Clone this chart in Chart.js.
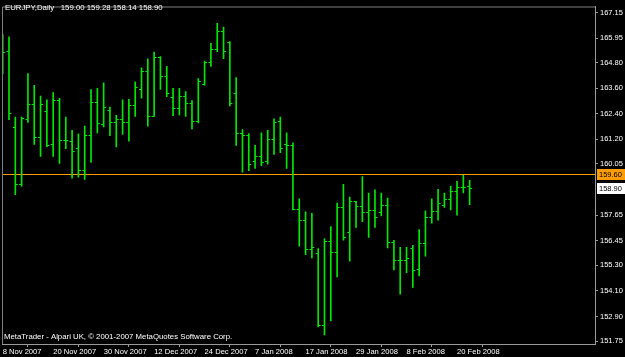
<!DOCTYPE html>
<html><head><meta charset="utf-8">
<script src="https://cdn.jsdelivr.net/npm/chart.js@4.4.1/dist/chart.umd.min.js"></script>
<style>html,body{margin:0;padding:0;background:#000;}canvas{display:block}</style>
</head><body>
<canvas id="c" width="625" height="357"></canvas>
<script>
const dates = [
 '8 Nov 2007','9 Nov 2007','12 Nov 2007','13 Nov 2007','14 Nov 2007','15 Nov 2007','16 Nov 2007','19 Nov 2007','20 Nov 2007','21 Nov 2007',
 '22 Nov 2007','23 Nov 2007','26 Nov 2007','27 Nov 2007','28 Nov 2007','29 Nov 2007','30 Nov 2007','3 Dec 2007','4 Dec 2007','5 Dec 2007',
 '6 Dec 2007','7 Dec 2007','10 Dec 2007','11 Dec 2007','12 Dec 2007','13 Dec 2007','14 Dec 2007','17 Dec 2007','18 Dec 2007','19 Dec 2007',
 '20 Dec 2007','21 Dec 2007','24 Dec 2007','26 Dec 2007','27 Dec 2007','28 Dec 2007','31 Dec 2007','2 Jan 2008','3 Jan 2008','4 Jan 2008',
 '7 Jan 2008','8 Jan 2008','9 Jan 2008','10 Jan 2008','11 Jan 2008','14 Jan 2008','15 Jan 2008','16 Jan 2008','17 Jan 2008','18 Jan 2008',
 '21 Jan 2008','22 Jan 2008','23 Jan 2008','24 Jan 2008','25 Jan 2008','28 Jan 2008','29 Jan 2008','30 Jan 2008','31 Jan 2008','1 Feb 2008',
 '4 Feb 2008','5 Feb 2008','6 Feb 2008','7 Feb 2008','8 Feb 2008','11 Feb 2008','12 Feb 2008','13 Feb 2008','14 Feb 2008','15 Feb 2008',
 '18 Feb 2008','19 Feb 2008','20 Feb 2008','21 Feb 2008','22 Feb 2008'
];
const opens = [
 165.60,165.33,161.78,159.12,162.15,162.85,161.32,162.51,160.97,163.05,
 161.15,161.14,160.81,159.78,161.40,162.95,161.91,162.56,162.00,162.17,
 162.00,162.82,163.54,164.39,162.28,165.08,164.16,163.20,162.66,163.23,
 162.90,162.05,163.82,164.82,165.44,166.26,165.75,163.36,161.51,161.43,
 160.20,160.43,160.20,161.20,162.05,160.97,160.94,157.96,157.40,156.05,
 155.88,152.49,156.45,155.91,158.02,156.87,158.30,158.07,157.79,157.91,
 157.79,158.12,156.39,155.53,155.53,156.11,155.11,156.36,157.54,157.84,
 158.12,158.42,158.78,158.95,159.00
];
const highs = [
 166.13,166.01,162.25,162.25,164.28,163.74,163.23,163.05,163.39,163.13,
 162.25,161.63,161.46,161.82,163.54,163.59,163.85,162.71,162.33,163.05,
 163.08,163.90,164.56,164.98,165.29,165.08,164.62,163.59,163.59,163.44,
 163.02,164.05,164.87,165.70,166.64,166.47,165.79,164.10,161.66,161.47,
 160.92,161.51,161.63,162.17,162.25,161.51,161.04,158.42,157.81,157.73,
 156.08,156.54,157.11,158.22,159.09,158.50,158.30,159.46,158.69,158.84,
 158.69,158.45,156.47,156.14,156.14,156.23,156.97,157.85,158.42,158.86,
 158.69,159.01,159.23,159.53,159.28
];
const lows = [
 164.28,162.12,158.61,159.01,162.00,160.97,160.40,160.86,160.40,160.07,
 160.77,159.38,159.43,159.32,160.12,161.51,161.78,161.38,160.85,161.43,
 161.12,162.28,163.13,161.82,162.28,163.54,163.20,162.31,162.35,162.28,
 161.69,161.97,163.74,164.62,165.31,164.98,162.77,160.92,159.66,159.74,
 159.84,159.97,160.04,160.50,160.58,159.84,157.89,156.19,155.80,155.65,
 152.41,152.03,152.69,154.75,156.48,155.49,157.07,157.34,156.60,157.08,
 157.61,156.11,155.08,153.95,154.95,154.26,154.80,155.73,157.27,157.42,
 158.01,157.89,157.65,158.69,158.14
];
const closes = [
 165.29,162.43,159.12,162.20,162.86,161.32,162.86,160.92,163.05,161.17,
 161.15,160.64,159.78,161.40,162.95,161.97,162.74,162.00,162.17,162.00,
 162.82,163.67,164.39,162.28,165.08,164.16,163.39,162.66,163.23,162.90,
 162.05,163.94,164.82,165.44,166.26,165.36,162.90,161.51,161.43,160.07,
 160.43,160.15,161.20,162.00,160.80,160.94,157.93,157.40,156.04,156.16,
 152.49,156.45,155.94,158.02,156.64,158.30,158.07,157.79,157.91,157.54,
 158.12,156.39,155.53,155.55,155.62,155.06,156.36,157.54,157.84,158.24,
 158.42,158.78,158.95,158.96,158.90
];
const xTickIndexes = [0,8,16,24,32,40,48,56,64,72];
const yTickValues = [167.15,165.95,164.80,163.60,162.40,161.20,160.05,157.65,156.45,155.30,154.10,152.90,151.75];
const levelLine = 159.60;
const bidPrice = 158.90;
const titleText = 'EURJPY,Daily   159.00 159.28 158.14 158.90';
const footerText = 'MetaTrader - Alpari UK, \u00A9 2001-2007 MetaQuotes Software Corp.';

const FONT = "'Liberation Sans', Arial, sans-serif";
const BAR = '#00e600';
const AXIS = '#9a9a9a';
const LEVEL = '#ff9c00';

const ohlcTicks = {
  id: 'ohlcTicks',
  beforeDatasetsDraw(chart) {
    const ys = chart.scales.y, c = chart.ctx, a = chart.chartArea;
    const y = Math.round(ys.getPixelForValue(levelLine)) + 0.5;
    c.save();
    c.strokeStyle = LEVEL; c.lineWidth = 1;
    c.beginPath(); c.moveTo(a.left, y); c.lineTo(a.right, y); c.stroke();
    c.restore();
  },
  afterDatasetsDraw(chart) {
    const xs = chart.scales.x, ys = chart.scales.y, c = chart.ctx, a = chart.chartArea;
    c.save();
    c.beginPath(); c.rect(a.left, a.top, a.right - a.left, a.bottom - a.top); c.clip();
    c.strokeStyle = BAR; c.lineWidth = 1;
    for (let i = 0; i < opens.length; i++) {
      const x = xs.getPixelForValue(i);
      const yo = Math.round(ys.getPixelForValue(opens[i])) + 0.5;
      const yc = Math.round(ys.getPixelForValue(closes[i])) + 0.5;
      c.beginPath(); c.moveTo(x - 2.5, yo); c.lineTo(x, yo); c.stroke();
      c.beginPath(); c.moveTo(x, yc); c.lineTo(x + 2.5, yc); c.stroke();
    }
    c.restore();
  },
  afterDraw(chart) {
    const ys = chart.scales.y, c = chart.ctx, a = chart.chartArea;
    c.save();
    c.strokeStyle = '#808080'; c.lineWidth = 1;
    c.beginPath();
    c.moveTo(a.left + 0.5, a.bottom); c.lineTo(a.left + 0.5, a.top + 0.5); c.lineTo(a.right, a.top + 0.5);
    c.stroke();
    c.font = '7.5px ' + FONT; c.textBaseline = 'middle'; c.textAlign = 'left';
    let y = Math.round(ys.getPixelForValue(levelLine));
    c.fillStyle = LEVEL; c.fillRect(a.right + 2, y - 5, 28, 11);
    c.fillStyle = '#000'; c.fillText(levelLine.toFixed(2), a.right + 4, y + 0.5);
    y = Math.round(ys.getPixelForValue(bidPrice));
    c.fillStyle = '#fff'; c.fillRect(a.right + 2, y - 5, 28, 11);
    c.fillStyle = '#000'; c.fillText(bidPrice.toFixed(2), a.right + 4, y + 0.5);
    c.font = '7.8px ' + FONT;
    c.fillStyle = '#ffffff';
    c.fillText(titleText, 5, 8);
    c.fillText(footerText, 4, 337);
    c.restore();
  }
};

new Chart(document.getElementById('c'), {
  type: 'bar',
  data: {
    datasets: [
      { type: 'bar', data: dates.map((d, i) => ({ x: i, y: [lows[i], highs[i]] })),
        backgroundColor: BAR, barThickness: 1, grouped: false, borderWidth: 0 }
    ]
  },
  options: {
    responsive: false, animation: false, devicePixelRatio: 1,
    layout: { padding: { left: 2, top: 2, right: 0, bottom: 0 } },
    plugins: { legend: { display: false }, tooltip: { enabled: false } },
    scales: {
      x: {
        type: 'linear', min: -0.11, max: 93.87, offset: false,
        afterBuildTicks: s => { s.ticks = xTickIndexes.map(v => ({ value: v })); },
        afterFit: s => { s.height = 13; },
        ticks: { callback: v => dates[v], align: 'start', maxRotation: 0, autoSkip: false,
                 color: '#ffffff', font: { family: FONT, size: 7.6 }, padding: 0 },
        grid: { drawOnChartArea: false, tickLength: 3, color: AXIS },
        border: { color: AXIS }
      },
      y: {
        position: 'right', min: 151.61, max: 167.43,
        afterBuildTicks: s => { s.ticks = yTickValues.map(v => ({ value: v })); },
        afterFit: s => { s.width = 30; },
        ticks: { callback: v => v.toFixed(2), color: '#ffffff', font: { family: FONT, size: 7.5 }, padding: 2 },
        grid: { drawOnChartArea: false, tickLength: 3, color: AXIS },
        border: { color: AXIS }
      }
    }
  },
  plugins: [ohlcTicks, { id: 'bg', beforeDraw(ch) { const c = ch.ctx; c.save(); c.fillStyle = '#000'; c.fillRect(0, 0, ch.width, ch.height); c.restore(); } }]
});
</script>
</body></html>
